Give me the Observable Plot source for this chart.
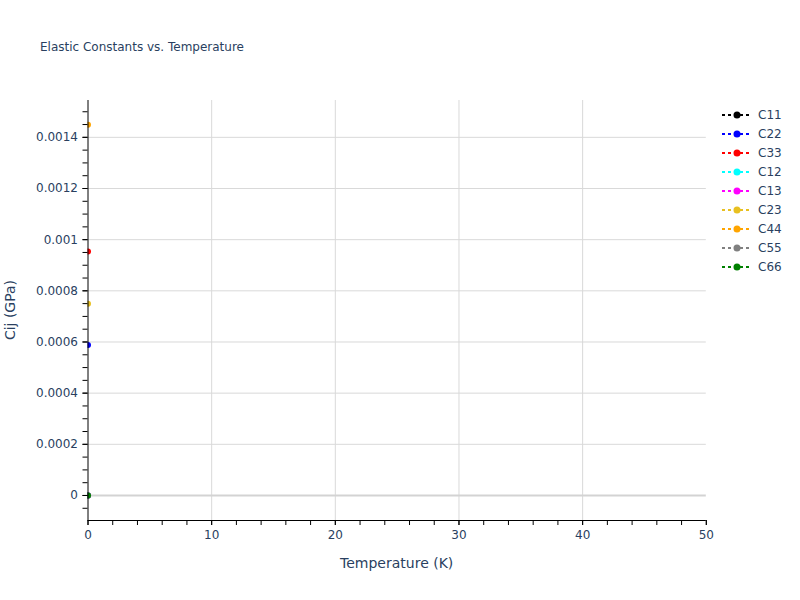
<!DOCTYPE html>
<html><head><meta charset="utf-8">
<script src="https://cdn.jsdelivr.net/npm/d3@7"></script>
<script src="https://cdn.jsdelivr.net/npm/@observablehq/plot@0.6"></script>
<style>
body{margin:0;background:#fff;font-family:"DejaVu Sans",verdana,arial,sans-serif;color:#2a3f5f;}
#wrap{position:relative;width:800px;height:600px;overflow:hidden;}
#wrap svg.plot{position:absolute;left:0;top:0;}
.title{position:absolute;left:40px;top:39px;font-size:12px;line-height:16px;white-space:nowrap;}
.xtitle{position:absolute;left:296.7px;width:200px;text-align:center;top:553px;font-size:14px;line-height:20px;}
.ytitle{position:absolute;left:-90px;top:300px;width:200px;text-align:center;font-size:14px;line-height:20px;transform:rotate(-90deg);}
.legend{position:absolute;left:720px;top:105.5px;}
.item{display:flex;align-items:center;height:19px;font-size:12px;}
.item svg{margin-right:4px;}
</style></head><body><div id="wrap"></div>
<script>
const seriesNames = ["C11","C22","C33","C12","C13","C23","C44","C55","C66"];
const seriesColors = ["black","blue","red","cyan","magenta","#e8c020","orange","gray","green"];
const temperatures = [0];
const C11 = [0];
const C22 = [0.000588];
const C33 = [0.000954];
const C12 = [0];
const C13 = [0];
const C23 = [0.000749];
const C44 = [0.001449];
const C55 = [0];
const C66 = [0];
const seriesValues = [C11, C22, C33, C12, C13, C23, C44, C55, C66];

const xTicks = [0, 10, 20, 30, 40, 50];
const yTicks = [0, 0.0002, 0.0004, 0.0006, 0.0008, 0.001, 0.0012, 0.0014];
const yTickLabels = ["0", "0.0002", "0.0004", "0.0006", "0.0008", "0.001", "0.0012", "0.0014"];
const xDomain = [0, 50];
const yDomain = [-0.0000978, 0.001544];

const rows = [];
seriesNames.forEach((name, si) => {
  temperatures.forEach((t, i) => rows.push({series: name, T: t, C: seriesValues[si][i]}));
});

const xMinor = d3.range(0, 51, 2);
const yMinor = d3.range(-1, 31).map(i => i * 0.00005).filter(v => v >= yDomain[0] && v <= yDomain[1]);

const fontFamily = '"DejaVu Sans", verdana, arial, sans-serif';

const chart = Plot.plot({
  width: 800,
  height: 600,
  marginLeft: 87.5,
  marginRight: 94.2,
  marginTop: 100,
  marginBottom: 80,
  style: {fontFamily, fontSize: "12px", color: "#2a3f5f", background: "white"},
  x: {domain: xDomain, label: null},
  y: {domain: yDomain, label: null},
  color: {domain: seriesNames, range: seriesColors},
  marks: [
    Plot.ruleX(xTicks.filter(v => v > 0 && v < 50), {stroke: "#d9d9d9", strokeWidth: 1}),
    Plot.ruleY(yTicks.filter(v => v !== 0), {stroke: "#d9d9d9", strokeWidth: 1}),
    Plot.ruleY([0], {stroke: "#d3d3d3", strokeWidth: 2}),
    Plot.line(rows, {x: "T", y: "C", z: "series", stroke: "series", strokeWidth: 2, strokeDasharray: "3,3", clip: true}),
    Plot.dot(rows, {x: "T", y: "C", fill: "series", r: 3, clip: true}),
    Plot.ruleX([xDomain[0]], {stroke: "black", strokeWidth: 1}),
    Plot.ruleY([yDomain[0]], {stroke: "black", strokeWidth: 1}),
    Plot.axisX({ticks: xMinor, tickSize: 5, text: null, stroke: "black", label: null}),
    Plot.axisX({ticks: xTicks, tickSize: 5, tickPadding: 5, stroke: "black", fill: "#2a3f5f", tickFormat: d => String(d), label: null}),
    Plot.axisY({ticks: yMinor, tickSize: 5, text: null, stroke: "black", label: null}),
    Plot.axisY({ticks: yTicks, tickSize: 5, tickPadding: 5, stroke: "black", fill: "#2a3f5f", tickFormat: d => yTickLabels[yTicks.indexOf(d)], label: null})
  ]
});
chart.classList.add("plot");
const wrap = document.getElementById("wrap");
wrap.appendChild(chart);

const title = document.createElement("div");
title.className = "title";
title.textContent = "Elastic Constants vs. Temperature";
wrap.appendChild(title);

const xt = document.createElement("div");
xt.className = "xtitle";
xt.textContent = "Temperature (K)";
wrap.appendChild(xt);

const yt = document.createElement("div");
yt.className = "ytitle";
yt.textContent = "Cij (GPa)";
wrap.appendChild(yt);

const legend = document.createElement("div");
legend.className = "legend";
seriesNames.forEach((name, i) => {
  const item = document.createElement("div");
  item.className = "item";
  const c = seriesColors[i];
  item.innerHTML = `<svg width="34" height="10"><line x1="2" y1="5" x2="32" y2="5" stroke="${c}" stroke-width="2" stroke-dasharray="3,3"/><circle cx="17" cy="5" r="3.5" fill="${c}"/></svg><span>${name}</span>`;
  legend.appendChild(item);
});
wrap.appendChild(legend);
</script>
</body></html>
